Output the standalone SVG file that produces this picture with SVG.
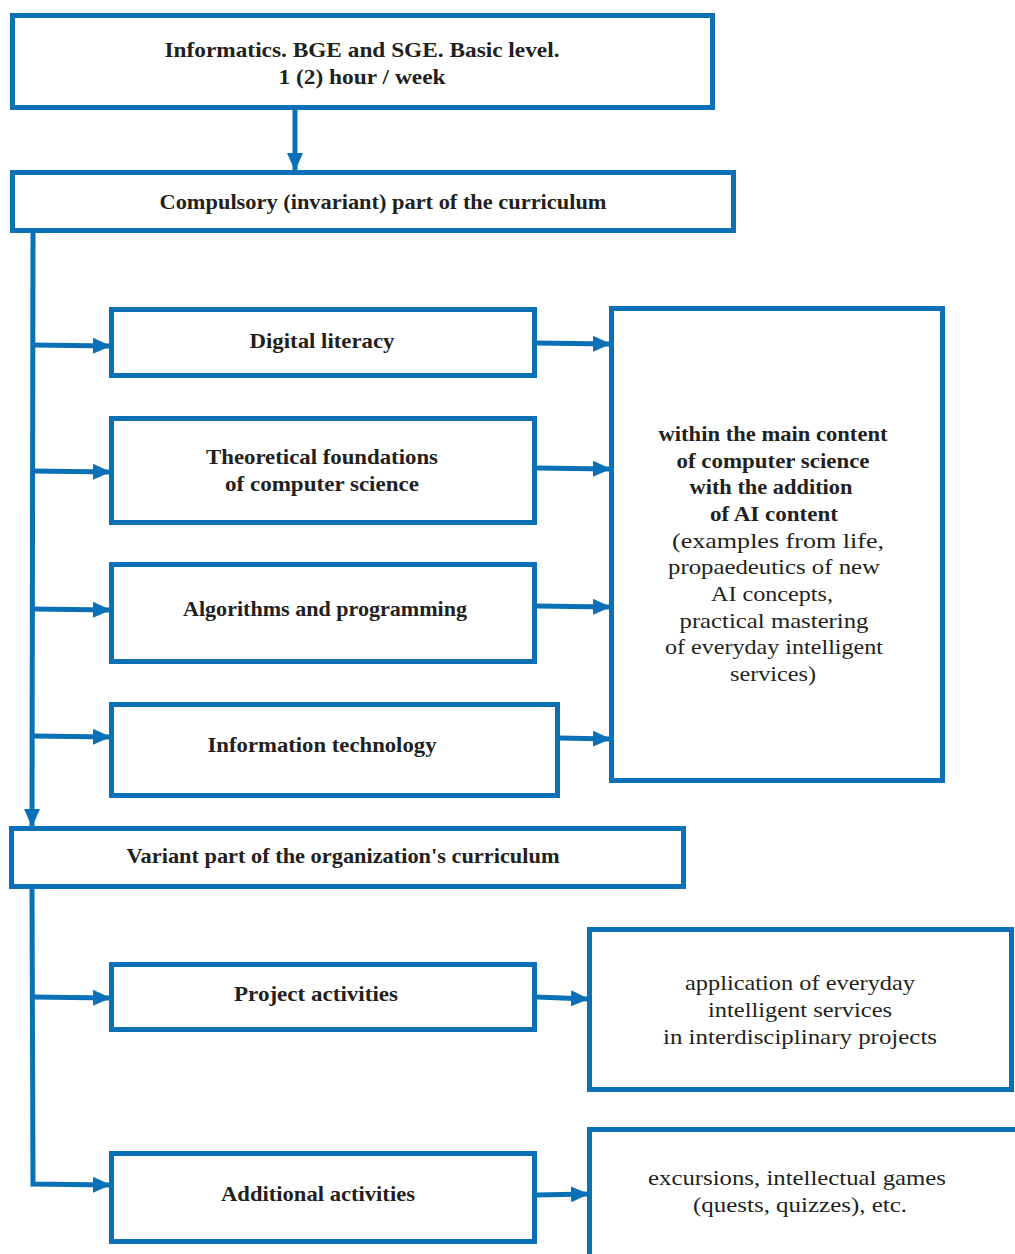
<svg xmlns="http://www.w3.org/2000/svg" width="1015" height="1254" viewBox="0 0 1015 1254">
<style>
.box{fill:#fff;stroke:#0a71b8;stroke-width:5}
.ln{fill:none;stroke:#0a71b8;stroke-width:5}
.b{font-family:"Liberation Serif",serif;font-weight:bold;font-size:21px;fill:#231f20;text-anchor:middle}
.n{font-family:"Liberation Serif",serif;font-size:21.5px;fill:#231f20;text-anchor:middle}
</style>
<defs>
<marker id="ah" markerUnits="userSpaceOnUse" markerWidth="18" markerHeight="16" refX="17" refY="8" orient="auto">
<path d="M0,0 L18,8 L0,16 Z" fill="#0a71b8"/>
</marker>
</defs>
<rect width="1015" height="1254" fill="#fff"/>
<g id="connectors">
<line class="ln" x1="295" y1="110" x2="295" y2="170" marker-end="url(#ah)"/>
<line class="ln" x1="33" y1="232" x2="32" y2="826" marker-end="url(#ah)"/>
<line class="ln" x1="33" y1="345" x2="110" y2="346" marker-end="url(#ah)"/>
<line class="ln" x1="33" y1="471" x2="110" y2="472" marker-end="url(#ah)"/>
<line class="ln" x1="33" y1="609" x2="110" y2="610" marker-end="url(#ah)"/>
<line class="ln" x1="33" y1="736" x2="110" y2="737" marker-end="url(#ah)"/>
<line class="ln" x1="536" y1="343" x2="610" y2="344" marker-end="url(#ah)"/>
<line class="ln" x1="536" y1="468" x2="610" y2="469" marker-end="url(#ah)"/>
<line class="ln" x1="536" y1="606" x2="610" y2="607" marker-end="url(#ah)"/>
<line class="ln" x1="559" y1="738" x2="610" y2="739" marker-end="url(#ah)"/>
<polyline class="ln" points="32,887 33,1184 110,1185" marker-end="url(#ah)"/>
<line class="ln" x1="33" y1="997" x2="110" y2="998" marker-end="url(#ah)"/>
<line class="ln" x1="536" y1="997" x2="588" y2="999" marker-end="url(#ah)"/>
<line class="ln" x1="536" y1="1195" x2="588" y2="1194" marker-end="url(#ah)"/>
</g>
<g id="top">
<rect class="box" x="12.5" y="15.5" width="700" height="92"/>
<text class="b" x="362" y="57" textLength="395" lengthAdjust="spacingAndGlyphs">Informatics. BGE and SGE. Basic level.</text>
<text class="b" x="362" y="84" textLength="167" lengthAdjust="spacingAndGlyphs">1 (2) hour / week</text>
</g>
<g id="compulsory">
<rect class="box" x="12.5" y="172.5" width="721" height="58"/>
<text class="b" x="383" y="209" textLength="447" lengthAdjust="spacingAndGlyphs">Compulsory (invariant) part of the curriculum</text>
</g>
<g id="digital">
<rect class="box" x="111.5" y="309.5" width="423" height="66"/>
<text class="b" x="322" y="348" textLength="145" lengthAdjust="spacingAndGlyphs">Digital literacy</text>
</g>
<g id="theoretical">
<rect class="box" x="111.5" y="418.5" width="423" height="104"/>
<text class="b" x="322" y="464" textLength="232" lengthAdjust="spacingAndGlyphs">Theoretical foundations</text>
<text class="b" x="322" y="491" textLength="194" lengthAdjust="spacingAndGlyphs">of computer science</text>
</g>
<g id="algorithms">
<rect class="box" x="111.5" y="564.5" width="423" height="97"/>
<text class="b" x="325" y="616" textLength="284" lengthAdjust="spacingAndGlyphs">Algorithms and programming</text>
</g>
<g id="infotech">
<rect class="box" x="111.5" y="704.5" width="446" height="91"/>
<text class="b" x="322" y="752" textLength="229" lengthAdjust="spacingAndGlyphs">Information technology</text>
</g>
<g id="ai-content">
<rect class="box" x="611.5" y="308.5" width="331" height="472"/>
<text class="b" x="773" y="441" textLength="229" lengthAdjust="spacingAndGlyphs">within the main content</text>
<text class="b" x="773" y="468" textLength="193" lengthAdjust="spacingAndGlyphs">of computer science</text>
<text class="b" x="771" y="494" textLength="163" lengthAdjust="spacingAndGlyphs">with the addition</text>
<text class="b" x="774" y="521" textLength="128" lengthAdjust="spacingAndGlyphs">of AI content</text>
<text class="n" x="778" y="548" textLength="212" lengthAdjust="spacingAndGlyphs">(examples from life,</text>
<text class="n" x="774" y="574" textLength="212" lengthAdjust="spacingAndGlyphs">propaedeutics of new</text>
<text class="n" x="772" y="601" textLength="122" lengthAdjust="spacingAndGlyphs">AI concepts,</text>
<text class="n" x="774" y="628" textLength="189" lengthAdjust="spacingAndGlyphs">practical mastering</text>
<text class="n" x="774" y="654" textLength="218" lengthAdjust="spacingAndGlyphs">of everyday intelligent</text>
<text class="n" x="773" y="681" textLength="86" lengthAdjust="spacingAndGlyphs">services)</text>
</g>
<g id="variant">
<rect class="box" x="11.5" y="828.5" width="672" height="58"/>
<text class="b" x="343" y="863" textLength="433" lengthAdjust="spacingAndGlyphs">Variant part of the organization's curriculum</text>
</g>
<g id="project">
<rect class="box" x="111.5" y="964.5" width="423" height="65"/>
<text class="b" x="316" y="1001" textLength="164" lengthAdjust="spacingAndGlyphs">Project activities</text>
</g>
<g id="additional">
<rect class="box" x="111.5" y="1153.5" width="423" height="88"/>
<text class="b" x="318" y="1201" textLength="194" lengthAdjust="spacingAndGlyphs">Additional activities</text>
</g>
<g id="interdisciplinary">
<rect class="box" x="589.5" y="929.5" width="422" height="160"/>
<text class="n" x="800" y="990" textLength="230" lengthAdjust="spacingAndGlyphs">application of everyday</text>
<text class="n" x="800" y="1017" textLength="184" lengthAdjust="spacingAndGlyphs">intelligent services</text>
<text class="n" x="800" y="1044" textLength="274" lengthAdjust="spacingAndGlyphs">in interdisciplinary projects</text>
</g>
<g id="excursions">
<rect class="box" x="589.5" y="1129.5" width="440" height="140"/>
<text class="n" x="797" y="1185" textLength="298" lengthAdjust="spacingAndGlyphs">excursions, intellectual games</text>
<text class="n" x="800" y="1212" textLength="214" lengthAdjust="spacingAndGlyphs">(quests, quizzes), etc.</text>
</g>
</svg>
